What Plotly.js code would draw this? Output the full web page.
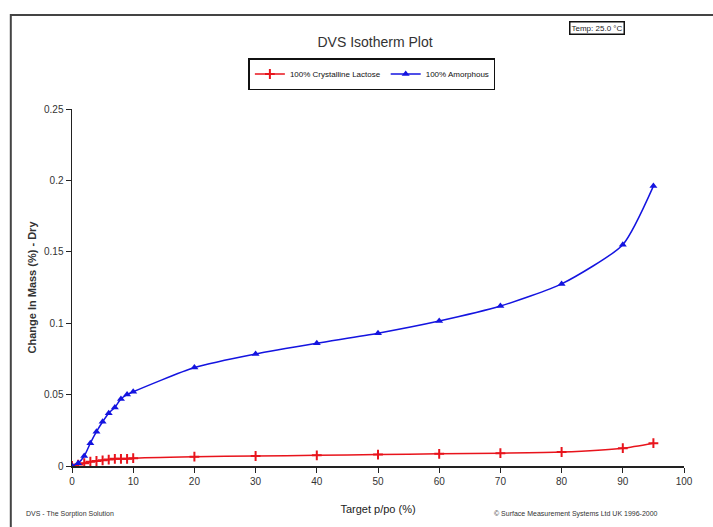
<!DOCTYPE html>
<html>
<head>
<meta charset="utf-8">
<script src="https://cdn.plot.ly/plotly-3.0.1.min.js"></script>
<style>html,body{margin:0;padding:0;background:#fff;}#chart{width:713px;height:527px;}</style>
</head>
<body>
<div id="chart"></div>
<script>
const humidity = [0, 1, 2, 3, 4, 5, 6, 7, 8, 9, 10, 20, 30, 40, 50, 60, 70, 80, 90, 95];
const crystalline = [0, 0.001, 0.002, 0.003, 0.0035, 0.004, 0.0045, 0.005, 0.005, 0.005, 0.0055, 0.0065, 0.007, 0.0075, 0.008, 0.0085, 0.009, 0.0098, 0.0125, 0.016];
const amorphous = [0, 0.002, 0.007, 0.016, 0.024, 0.031, 0.037, 0.041, 0.047, 0.050, 0.052, 0.069, 0.0785, 0.086, 0.093, 0.1015, 0.112, 0.1275, 0.155, 0.196];
const seriesNames = ["100% Crystalline Lactose", "100% Amorphous"];
const yTicks = [0, 0.05, 0.1, 0.15, 0.2, 0.25];
const yTickText = ["0", "0.05", "0.1", "0.15", "0.2", "0.25"];

const font = "Liberation Sans, Arial, sans-serif";

const traces = [
  {
    x: humidity, y: crystalline, name: seriesNames[0], type: "scatter", mode: "lines+markers",
    line: {color: "#e8141c", width: 1.5, shape: "spline", smoothing: 0.6},
    marker: {symbol: "cross-thin", size: 7, color: "#e8141c", line: {color: "#e8141c", width: 2}}
  },
  {
    x: humidity, y: amorphous, name: seriesNames[1], type: "scatter", mode: "lines+markers",
    line: {color: "#1414e0", width: 1.5, shape: "spline", smoothing: 0.6},
    marker: {symbol: "triangle-up", size: 7, color: "#1414e0"}
  }
];

const layout = {
  width: 713, height: 527,
  margin: {l: 72, r: 29, t: 109, b: 61},
  paper_bgcolor: "#fff", plot_bgcolor: "#fff",
  font: {family: font, color: "#222", size: 10},
  title: {text: "DVS Isotherm Plot", x: 0.526, xanchor: "center", y: 0.92, yanchor: "middle",
          font: {family: font, size: 14, color: "#333"}},
  showlegend: true,
  legend: {orientation: "h", x: 0.49, xanchor: "center", y: 1.098, yanchor: "middle",
           bordercolor: "#111", borderwidth: 1.5, bgcolor: "#fff",
           font: {family: font, size: 8, color: "#111"}, itemwidth: 30, tracegroupgap: 0},
  xaxis: {
    range: [0, 100], dtick: 10, tick0: 0, showgrid: false, zeroline: false,
    showline: true, linecolor: "#222", linewidth: 1.5, ticks: "outside", ticklen: 5, tickcolor: "#222",
    tickfont: {family: font, size: 10, color: "#333"},
    title: {text: "Target p/po (%)", font: {family: font, size: 11, color: "#222"}, standoff: 20}
  },
  yaxis: {
    range: [0, 0.25], tickvals: yTicks, ticktext: yTickText, showgrid: false, zeroline: false,
    showline: true, linecolor: "#222", linewidth: 1.5, ticks: "outside", ticklen: 5, tickcolor: "#222",
    tickfont: {family: font, size: 10, color: "#333"},
    title: {text: "<b>Change In Mass (%) - Dry</b>", font: {family: font, size: 11, color: "#333"}, standoff: 5}
  },
  shapes: [
    {type: "rect", xref: "paper", yref: "paper", x0: -0.1, x1: 1.2, y0: -0.3, y1: 1.263,
     line: {color: "#444", width: 2}, fillcolor: "rgba(0,0,0,0)"}
  ],
  annotations: [
    {text: "Temp: 25.0 °C", xref: "paper", yref: "paper", x: 0.858, y: 1.228, xanchor: "center", yanchor: "middle",
     showarrow: false, font: {family: font, size: 8, color: "#222"}, bordercolor: "#111", borderwidth: 1.5, borderpad: 1, bgcolor: "#fff"},
    {text: "DVS - The Sorption Solution", xref: "paper", yref: "paper", x: -0.078, y: -0.134, xanchor: "left", yanchor: "middle",
     showarrow: false, font: {family: font, size: 7, color: "#333"}},
    {text: "© Surface Measurement Systems Ltd UK 1996-2000", xref: "paper", yref: "paper", x: 0.96, y: -0.134, xanchor: "right", yanchor: "middle",
     showarrow: false, font: {family: font, size: 7, color: "#333"}}
  ]
};

Plotly.newPlot("chart", traces, layout, {displayModeBar: false, staticPlot: true});
</script>
</body>
</html>
